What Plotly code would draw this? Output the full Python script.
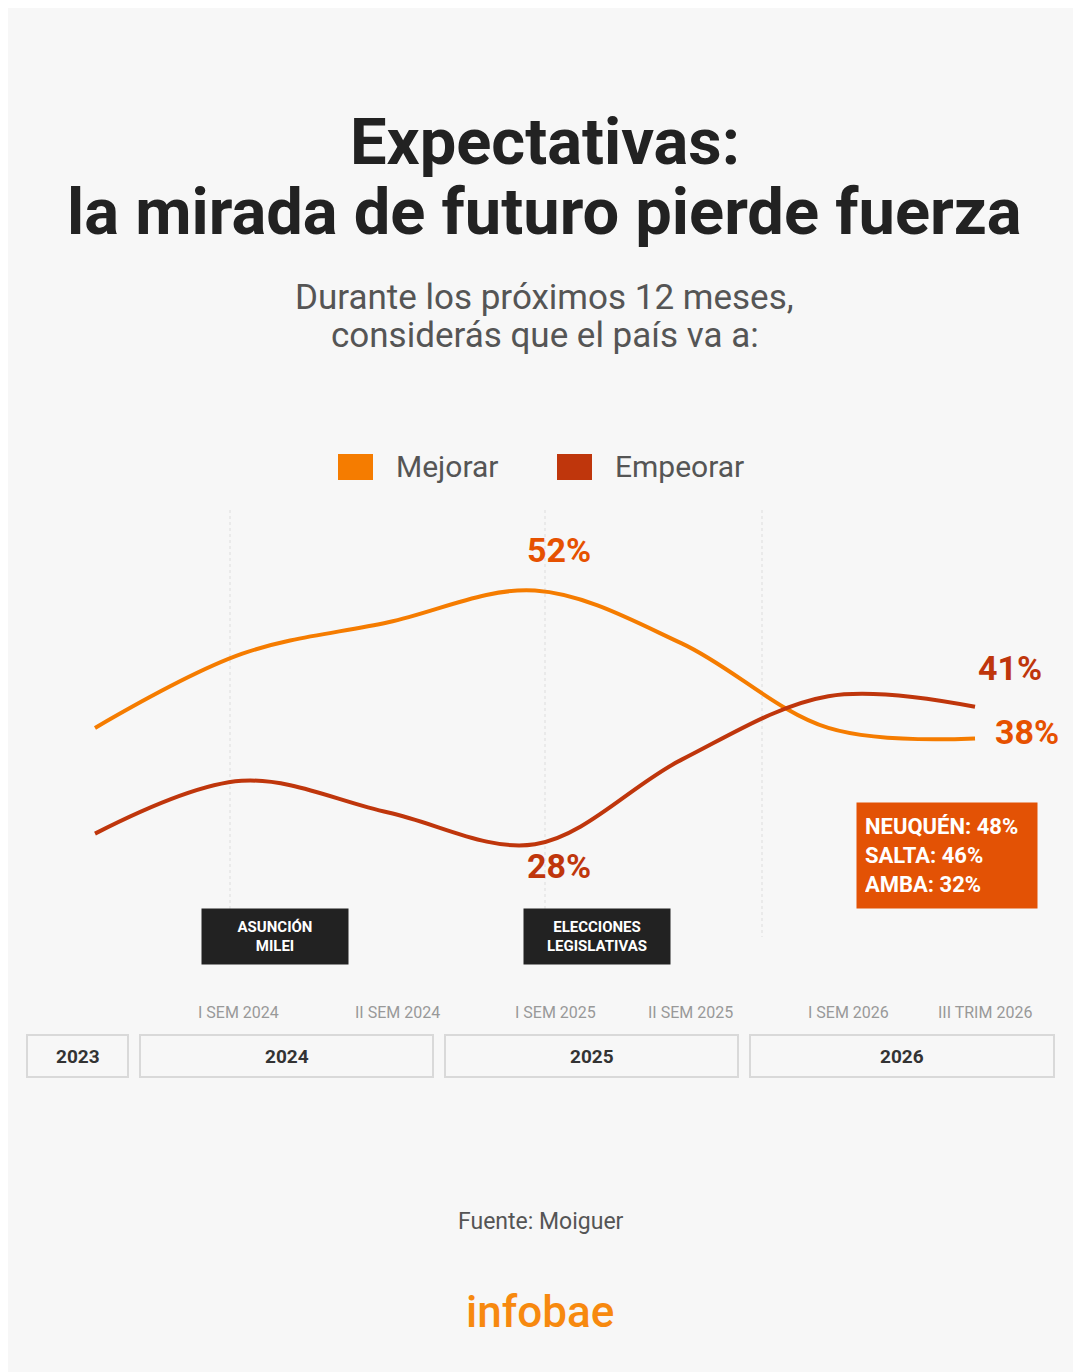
import plotly.graph_objects as go

W, H = 1081, 1372
OFF = 8  # page body margin
FW, FH = W - OFF, H - OFF

periods = ["2023", "I SEM 2024", "II SEM 2024", "I SEM 2025", "II SEM 2025", "I SEM 2026", "III TRIM 2026"]
mejorar = [39, 46, 49, 52, 47, 39, 38]
empeorar = [29, 34, 31, 28, 36, 42, 41]
labeled = [0, 3, 6]
years = ["2023", "2024", "2025", "2026"]
events = ["ASUNCIÓN<br>MILEI", "ELECCIONES<br>LEGISLATIVAS"]
provincias = ["NEUQUÉN", "SALTA", "AMBA"]
prov_vals = [48, 46, 32]

ORANGE = "#F57C00"
RED = "#BF360C"
LBL_ORANGE = "#E65100"
BG = "#F7F7F7"
FONT = "Roboto"


def px(x):
    return (x - OFF) / FW


def py(y):
    return 1 - (y - OFF) / FH


fig = go.Figure()
fig.add_trace(go.Scatter(x=periods, y=mejorar, mode="lines", name="Mejorar",
                         line=dict(color=ORANGE, width=4, shape="spline", smoothing=1.0),
                         hoverinfo="skip"))
fig.add_trace(go.Scatter(x=periods, y=empeorar, mode="lines", name="Empeorar",
                         line=dict(color=RED, width=4, shape="spline", smoothing=1.0),
                         hoverinfo="skip"))

ann = []
shapes = []

# title / subtitle
ann.append(dict(text="<b>Expectativas:</b>", x=0.5, y=py(142), font=dict(size=65, color="#222")))
ann.append(dict(text="<b>la mirada de futuro pierde fuerza</b>", x=0.5, y=py(212),
                font=dict(size=65, color="#222")))
ann.append(dict(text="Durante los próximos 12 meses,", x=0.5, y=py(297), font=dict(size=35, color="#555")))
ann.append(dict(text="considerás que el país va a:", x=0.5, y=py(335), font=dict(size=35, color="#555")))

# legend drawn by hand (big squares)
for name, col, x0 in [("Mejorar", ORANGE, 338), ("Empeorar", RED, 557)]:
    shapes.append(dict(type="rect", xref="paper", yref="paper", x0=px(x0), x1=px(x0 + 35),
                       y0=py(480), y1=py(454), fillcolor=col, line=dict(width=0)))
    ann.append(dict(text=name, x=px(x0 + 56), y=py(467), xanchor="left",
                    font=dict(size=30, color="#555")))

# dotted guide lines
for gx in [230, 545, 762]:
    shapes.append(dict(type="line", xref="paper", yref="paper", x0=px(gx), x1=px(gx),
                       y0=py(510), y1=py(937), line=dict(color="#DDDDDD", width=1, dash="dot"),
                       layer="below"))

# value labels
offs_m = {0: (12, 36), 3: (24, 41), 6: (52, 7)}
offs_e = {0: (12, 18), 3: (24, -22), 6: (35, 39)}
for i in labeled:
    ann.append(dict(text=f"<b>{mejorar[i]}%</b>", x=periods[i], y=mejorar[i], xref="x", yref="y",
                    xshift=offs_m[i][0], yshift=offs_m[i][1], font=dict(size=34, color=LBL_ORANGE)))
    ann.append(dict(text=f"<b>{empeorar[i]}%</b>", x=periods[i], y=empeorar[i], xref="x", yref="y",
                    xshift=offs_e[i][0], yshift=offs_e[i][1], font=dict(size=34, color=RED)))

# event boxes
for txt, cx in zip(events, [275, 597]):
    ann.append(dict(text=f"<b>{txt}</b>", x=px(cx), y=py(937), width=146, height=55, borderpad=0,
                    bgcolor="#222222", font=dict(size=15, color="white")))

# provincias box
prov_txt = "<br>".join(f"<b>{p}: {v}%</b>" for p, v in zip(provincias, prov_vals))
ann.append(dict(text=prov_txt, x=px(947), y=py(855), width=164, height=89, borderpad=8,
                bgcolor="#E35205", align="left", font=dict(size=22, color="white")))

# period labels
period_shift = [0, -3, 9, 20, 9, 20, 10]
for p, s in zip(periods[1:], period_shift[1:]):
    ann.append(dict(text=p, x=p, xref="x", xshift=s, y=py(1012), font=dict(size=16, color="#999")))

# year boxes
year_edges = [(27, 128), (140, 433), (445, 738), (750, 1054)]
for yr, (a, b) in zip(years, year_edges):
    shapes.append(dict(type="rect", xref="paper", yref="paper", x0=px(a), x1=px(b),
                       y0=py(1077), y1=py(1035), fillcolor=BG, line=dict(color="#D9D9D9", width=2)))
    ann.append(dict(text=f"<b>{yr}</b>", x=px((a + b) / 2), y=py(1056), font=dict(size=19, color="#333")))

# footer
ann.append(dict(text="Fuente: Moiguer", x=px(541), y=py(1221), font=dict(size=23, color="#555")))
ann.append(dict(text="infobae", x=px(540), y=py(1312), font=dict(size=44, color="#F7890F", weight=500)))

for a in ann:
    a.setdefault("xref", "paper")
    a.setdefault("yref", "paper")
    a.setdefault("showarrow", False)
    a.setdefault("xanchor", "center")
    a.setdefault("yanchor", "middle")

# axis ranges chosen so the 0..6 categories sit at x=95..975 px on the page
fig.update_layout(
    width=FW, height=FH,
    margin=dict(l=0, r=0, t=0, b=0),
    paper_bgcolor=BG, plot_bgcolor=BG,
    font=dict(family=FONT),
    showlegend=False,
    annotations=ann,
    shapes=shapes,
    xaxis=dict(visible=False, range=[-0.5932, 6.7226], domain=[0, 1]),
    yaxis=dict(visible=False, range=[-21.93, 107.11], domain=[0, 1]),
)

fig.write_html("out.html")
